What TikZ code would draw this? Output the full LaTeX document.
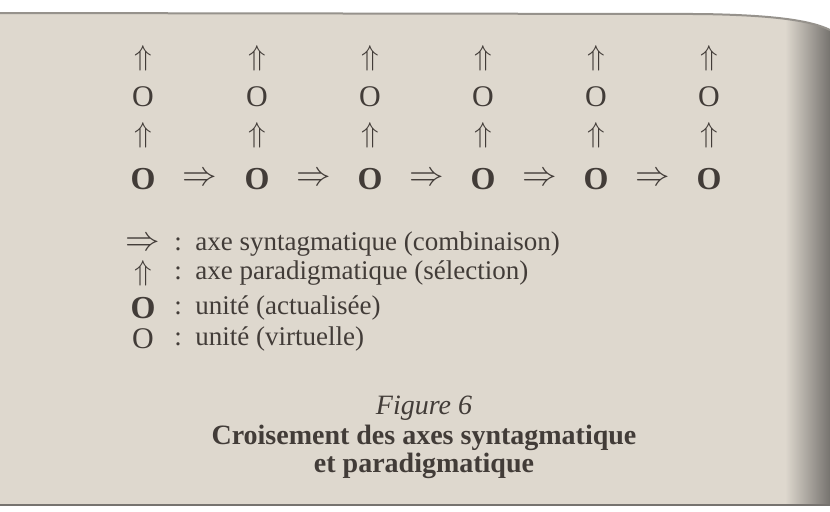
\documentclass[tikz,border=0pt]{standalone}
\usepackage{fontspec}
\setmainfont{Liberation Serif}
\usetikzlibrary{positioning, calc}

\definecolor{ink}{RGB}{66,60,56}
\definecolor{paper}{RGB}{222,216,206}
\definecolor{spine}{RGB}{118,115,111}
\definecolor{edge}{RGB}{150,146,140}

\begin{document}
\begin{tikzpicture}[
    x=0.5pt, y=-0.5pt,
    every node/.style={inner sep=0pt, text=ink},
    actual/.style={font=\fontsize{16}{18}\selectfont\bfseries},
    virtual/.style={font=\fontsize{15}{17}\selectfont},
    sel/.style={font=\fontsize{14}{16}\selectfont},
    comb/.style={font=\fontsize{17}{19}\selectfont},
    legtxt/.style={font=\fontsize{13.5}{16}\selectfont, anchor=west},
    capit/.style={font=\fontsize{14}{16}\selectfont\itshape},
    capbf/.style={font=\fontsize{14}{16}\selectfont\bfseries},
]
\useasboundingbox (0,0) rectangle (830,511);

% --------- Page ----------
\fill[white] (0,0) rectangle (830,511);
\begin{scope}
  \clip (0,13) -- (700,14) .. controls (770,15) and (810,20) .. (830,30)
        -- (830,505) -- (0,505) -- cycle;
  \fill[paper] (0,0) rectangle (830,511);
  \shade[left color=paper, right color=spine] (785,0) rectangle (830,511);
\end{scope}
\draw[edge, line width=1pt] (0,13) -- (700,14) .. controls (770,15) and (810,20) .. (830,30);
\draw[spine, line width=1.2pt] (0,505) -- (830,505);

% --------- Actualised row (y = 179) ----------
\node[actual] (a1) at (143,179) {O};
\node[actual] (a2) at (257,179) {O};
\node[actual] (a3) at (370,179) {O};
\node[actual] (a4) at (483,179) {O};
\node[actual] (a5) at (596,179) {O};
\node[actual] (a6) at (709,179) {O};

\node[comb] (c1) at ($(a1)!0.5!(a2)$) {$\Rightarrow$};
\node[comb] (c2) at ($(a2)!0.5!(a3)$) {$\Rightarrow$};
\node[comb] (c3) at ($(a3)!0.5!(a4)$) {$\Rightarrow$};
\node[comb] (c4) at ($(a4)!0.5!(a5)$) {$\Rightarrow$};
\node[comb] (c5) at ($(a5)!0.5!(a6)$) {$\Rightarrow$};

% --------- Paradigm columns ----------
\node[sel]     (s1) at (a1 |- 0,135) {$\Uparrow$};
\node[sel]     (s2) at (a2 |- s1)    {$\Uparrow$};
\node[sel]     (s3) at (a3 |- s1)    {$\Uparrow$};
\node[sel]     (s4) at (a4 |- s1)    {$\Uparrow$};
\node[sel]     (s5) at (a5 |- s1)    {$\Uparrow$};
\node[sel]     (s6) at (a6 |- s1)    {$\Uparrow$};

\node[virtual] (v1) at (a1 |- 0,97)  {O};
\node[virtual] (v2) at (a2 |- v1)    {O};
\node[virtual] (v3) at (a3 |- v1)    {O};
\node[virtual] (v4) at (a4 |- v1)    {O};
\node[virtual] (v5) at (a5 |- v1)    {O};
\node[virtual] (v6) at (a6 |- v1)    {O};

\node[sel]     (t1) at (a1 |- 0,58)  {$\Uparrow$};
\node[sel]     (t2) at (a2 |- t1)    {$\Uparrow$};
\node[sel]     (t3) at (a3 |- t1)    {$\Uparrow$};
\node[sel]     (t4) at (a4 |- t1)    {$\Uparrow$};
\node[sel]     (t5) at (a5 |- t1)    {$\Uparrow$};
\node[sel]     (t6) at (a6 |- t1)    {$\Uparrow$};

% --------- Legend ----------
\node[comb]    (lg1) at (143,244) {$\Rightarrow$};
\node[sel]     (lg2) at (143,273) {$\Uparrow$};
\node[actual]  (lg3) at (143,308) {O};
\node[virtual] (lg4) at (143,339) {O};

\node[legtxt] (lt1) at (174,244) {:\, axe syntagmatique (combinaison)};
\node[legtxt] (lt2) at (174,273) {:\, axe paradigmatique (sélection)};
\node[legtxt] (lt3) at (174,308) {:\, unité (actualisée)};
\node[legtxt] (lt4) at (174,339) {:\, unité (virtuelle)};

% --------- Caption ----------
\node[capit] (fig)  at (424,408) {Figure 6};
\node[capbf] (cap1) at (424,438) {Croisement des axes syntagmatique};
\node[capbf] (cap2) at (424,466) {et paradigmatique};

\end{tikzpicture}
\end{document}
